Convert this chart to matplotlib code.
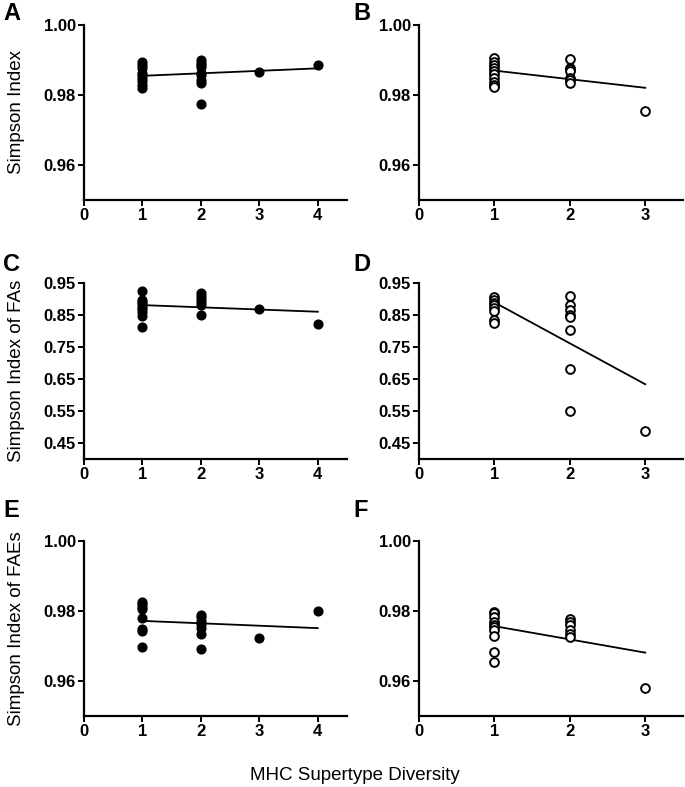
import numpy as np
import matplotlib
matplotlib.use("Agg")
import matplotlib.pyplot as plt

plt.rcParams["font.family"] = ["Liberation Sans", "DejaVu Sans"]

# MHC supertype diversity (x) and Simpson index values (y) per panel
a_x = [1] * 9 + [2] * 9 + [3, 4]
a_y = [0.9893, 0.9885, 0.9878, 0.9862, 0.9856, 0.9848, 0.9840, 0.9830, 0.9821,
       0.9900, 0.9892, 0.9886, 0.9881, 0.9862, 0.9857, 0.9843, 0.9835, 0.9773,
       0.9867, 0.9887]

b_x = [1] * 10 + [2] * 7 + [3]
b_y = [0.9905, 0.9895, 0.9886, 0.9878, 0.9869, 0.9859, 0.9848, 0.9838, 0.9830, 0.9823,
       0.9903, 0.9878, 0.9873, 0.9869, 0.9850, 0.9842, 0.9834,
       0.9754]

c_x = [1] * 9 + [2] * 6 + [3, 4]
c_y = [0.926, 0.897, 0.890, 0.883, 0.876, 0.868, 0.858, 0.848, 0.811,
       0.919, 0.910, 0.900, 0.890, 0.880, 0.851,
       0.870, 0.823]

d_x = [1] * 8 + [2] * 8 + [3]
d_y = [0.906, 0.898, 0.889, 0.881, 0.872, 0.864, 0.835, 0.825,
       0.908, 0.882, 0.866, 0.851, 0.843, 0.804, 0.680, 0.549,
       0.488]

e_x = [1] * 8 + [2] * 7 + [3, 4]
e_y = [0.9827, 0.9820, 0.9812, 0.9806, 0.9780, 0.9749, 0.9744, 0.9696,
       0.9789, 0.9782, 0.9772, 0.9763, 0.9751, 0.9734, 0.9691,
       0.9722, 0.9799]

f_x = [1] * 10 + [2] * 6 + [3]
f_y = [0.9798, 0.9793, 0.9782, 0.9770, 0.9760, 0.9754, 0.9746, 0.9729, 0.9682, 0.9653,
       0.9776, 0.9769, 0.9760, 0.9746, 0.9735, 0.9727,
       0.9581]

panels = [
    ("A", a_x, a_y, True, "Simpson Index", [0.96, 0.98, 1.00], (0.95, 1.00)),
    ("B", b_x, b_y, False, "", [0.96, 0.98, 1.00], (0.95, 1.00)),
    ("C", c_x, c_y, True, "Simpson Index of FAs", [0.45, 0.55, 0.65, 0.75, 0.85, 0.95], (0.40, 0.95)),
    ("D", d_x, d_y, False, "", [0.45, 0.55, 0.65, 0.75, 0.85, 0.95], (0.40, 0.95)),
    ("E", e_x, e_y, True, "Simpson Index of FAEs", [0.96, 0.98, 1.00], (0.95, 1.00)),
    ("F", f_x, f_y, False, "", [0.96, 0.98, 1.00], (0.95, 1.00)),
]

W, H = 685, 787
fig = plt.figure(figsize=(W / 100, H / 100), dpi=100)

# axes boxes in pixels: left, top, right, bottom
col_px = [(84, 347), (419, 683)]
row_px = [(25, 200), (283, 459), (541, 716)]
letter_x = [3, 353]
letter_y = [2, 253, 499]

for i, (letter, xs, ys, filled, ylabel, yticks, ylim) in enumerate(panels):
    r, c = divmod(i, 2)
    l, rr = col_px[c]
    t, b = row_px[r]
    ax = fig.add_axes([l / W, 1 - b / H, (rr - l) / W, (b - t) / H])

    xs = np.array(xs, dtype=float)
    ys = np.array(ys, dtype=float)
    if filled:
        ax.plot(xs, ys, "o", ms=6.3, mfc="black", mec="black", clip_on=False, zorder=3)
    else:
        ax.plot(xs, ys, "o", ms=6.3, mfc="white", mec="black", mew=1.4, clip_on=False, zorder=3)

    # linear regression line
    k, m = np.polyfit(xs, ys, 1)
    xl = np.array([xs.min(), xs.max()])
    ax.plot(xl, k * xl + m, color="black", lw=1.3, zorder=2)

    xmax = 4 if filled else 3
    ax.set_xlim(0, xmax + 0.5)
    ax.set_xticks(range(0, xmax + 1))
    ax.set_ylim(*ylim)
    ax.set_yticks(yticks)
    ax.set_yticklabels([f"{v:.2f}" for v in yticks])

    for s in ("top", "right"):
        ax.spines[s].set_visible(False)
    for s in ("left", "bottom"):
        ax.spines[s].set_linewidth(1.6)
    ax.tick_params(direction="out", length=4, width=1.4, labelsize=12, pad=2)
    for lab in ax.get_xticklabels() + ax.get_yticklabels():
        lab.set_fontweight("bold")

    if ylabel:
        ax.set_ylabel(ylabel, fontsize=13.5)
        ax.yaxis.set_label_coords(-(l - 25) / (rr - l), 0.5)

    fig.text(letter_x[c] / W, 1 - letter_y[r] / H, letter, fontsize=17, fontweight="bold",
             ha="left", va="top")

fig.text(355 / W, 1 - 775 / H, "MHC Supertype Diversity", fontsize=13.5, ha="center", va="center")

fig.savefig("out.png", dpi=100)
